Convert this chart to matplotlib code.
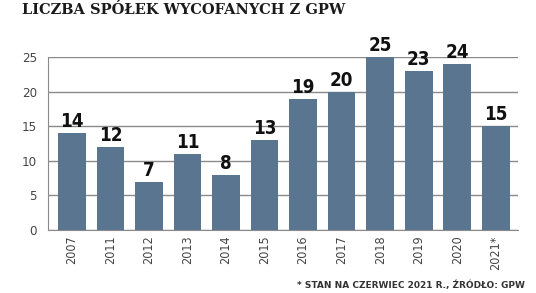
import matplotlib.pyplot as plt

years = ["2007", "2011", "2012", "2013", "2014", "2015", "2016", "2017", "2018", "2019", "2020", "2021*"]
counts = [14, 12, 7, 11, 8, 13, 19, 20, 25, 23, 24, 15]
yticks = [0, 5, 10, 15, 20, 25]

bar_color = "#5a7590"
grid_color = "#8a8a8a"
narrow = ["DejaVu Sans"]

fig = plt.figure(figsize=(5.36, 2.93), dpi=100)
ax = fig.add_axes([0.0896, 0.215, 0.877, 0.59])

x = list(range(len(years)))
ax.bar(x, counts, width=0.72, color=bar_color, zorder=3)

# value labels above bars
for xi, v in zip(x, counts):
    ax.text(xi, v + 0.3, str(v), ha="center", va="bottom", fontsize=13.5,
            fontweight="bold", family=narrow, fontstretch="condensed",
            color="#111111", zorder=4)

ax.set_xlim(-0.62, len(years) - 0.42)
ax.set_ylim(0, 25)
ax.set_yticks(yticks)
ax.set_xticks(x)
ax.set_xticklabels(years, rotation=90, family=narrow, fontstretch="condensed",
                   fontsize=9, color="#444444")
ax.set_yticklabels([str(t) for t in yticks], family=narrow, fontstretch="condensed",
                   fontsize=9.5, color="#444444")
ax.tick_params(axis="x", length=0, pad=4)
ax.tick_params(axis="y", length=0, pad=8)

ax.yaxis.grid(True, color=grid_color, linewidth=1.0, zorder=0)
ax.set_axisbelow(True)
for s in ["top", "right"]:
    ax.spines[s].set_visible(False)
ax.spines["left"].set_color(grid_color)
ax.spines["bottom"].set_color(grid_color)

# title
fig.text(0.041, 0.965, "LICZBA SPÓŁEK WYCOFANYCH Z GPW", ha="left", va="center",
         fontsize=10.5, fontweight="bold", family="DejaVu Serif", color="#1a1a1a")

# footnote
fig.text(0.98, 0.025, "* STAN NA CZERWIEC 2021 R., ŹRÓDŁO: GPW", ha="right", va="center",
         fontsize=6.5, fontweight="bold", family=narrow, color="#333333")

fig.savefig("out.png", dpi=100)
